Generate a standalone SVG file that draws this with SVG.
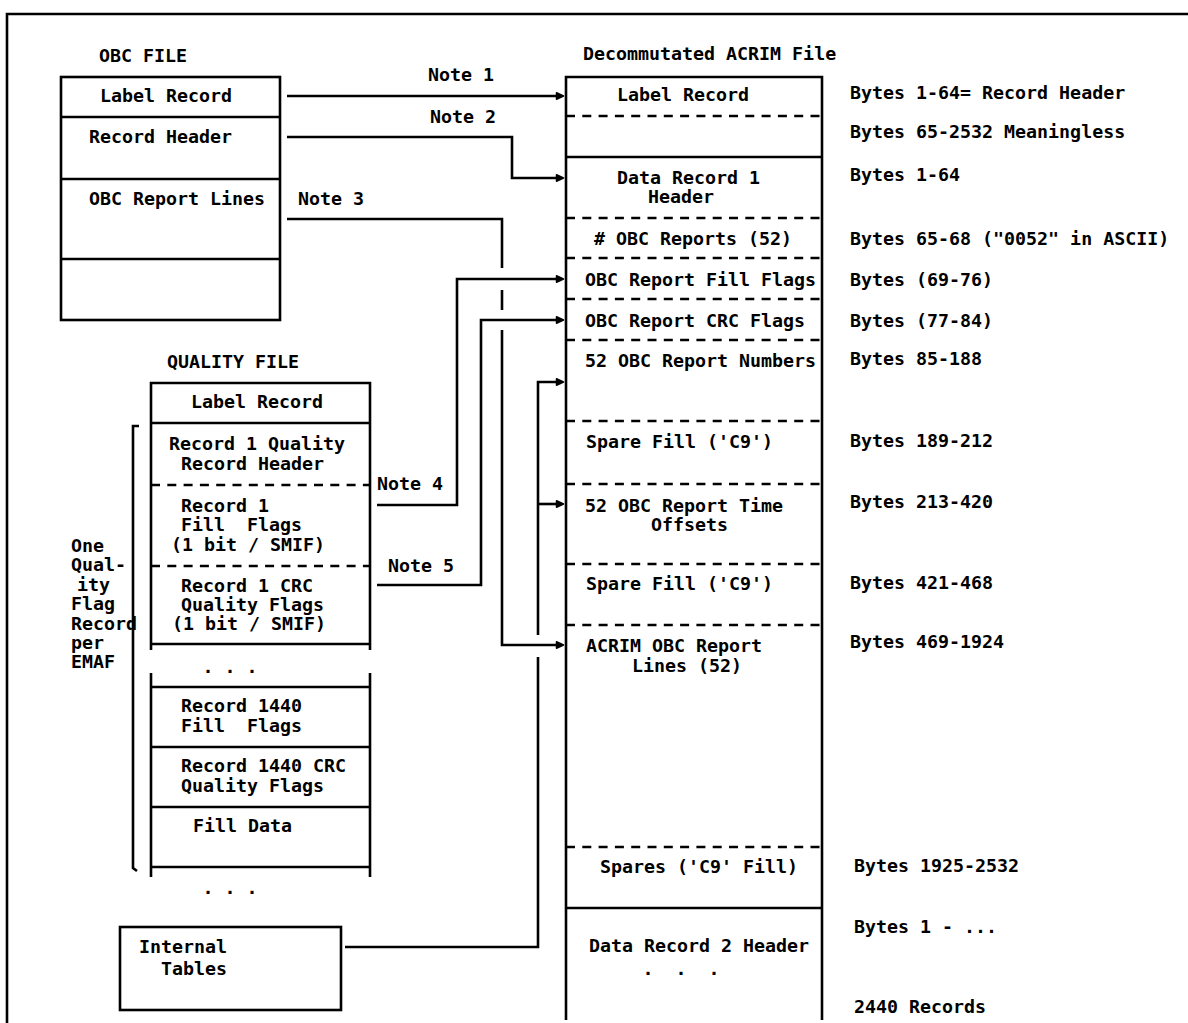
<svg xmlns="http://www.w3.org/2000/svg" width="1188" height="1023" viewBox="0 0 1188 1023">
<style>
text{font-family:"DejaVu Sans Mono","Liberation Mono",monospace;font-weight:bold;font-size:18.3px;fill:#000;white-space:pre}
.s{fill:none;stroke:#000;stroke-width:2.6}
.d{fill:none;stroke:#000;stroke-width:2.6;stroke-dasharray:9 7.3}
.c{fill:none;stroke:#000;stroke-width:2.6;marker-end:url(#dot)}
</style>
<defs>
<marker id="dot" markerUnits="userSpaceOnUse" markerWidth="10" markerHeight="10" refX="5" refY="5" orient="auto" viewBox="0 0 10 10">
<path d="M1.5,1.8 L8.5,5 L1.5,8.2 Z" fill="#000" stroke="#000" stroke-width="1.5" stroke-linejoin="round"/>
</marker>
</defs>
<rect width="1188" height="1023" fill="#fff"/>
<g id="frame">
<path class="s" d="M7,1023 V14 H1188" stroke-width="3"/>
</g>
<g id="obc-file">
<text x="99" y="62">OBC FILE</text>
<rect class="s" x="61" y="77" width="219" height="243"/>
<path class="s" d="M61,117 H280 M61,179 H280 M61,259 H280"/>
<text x="100" y="102">Label Record</text>
<text x="89" y="143">Record Header</text>
<text x="89" y="205">OBC Report Lines</text>
</g>
<g id="quality-file">
<text x="167" y="368">QUALITY FILE</text>
<path class="s" d="M151,650 V383 H370 V650 M151,423 H370 M151,644 H370"/>
<path class="d" d="M151,485 H370 M151,566 H370"/>
<path class="s" d="M151,673 V877 M370,673 V877 M151,687 H370 M151,747 H370 M151,807 H370 M151,867 H370"/>
<text x="191" y="408">Label Record</text>
<text x="169" y="450">Record 1 Quality</text>
<text x="181" y="470">Record Header</text>
<text x="181" y="512">Record 1</text>
<text x="181" y="531">Fill  Flags</text>
<text x="171" y="551">(1 bit / SMIF)</text>
<text x="181" y="592">Record 1 CRC</text>
<text x="181" y="611">Quality Flags</text>
<text x="172" y="630">(1 bit / SMIF)</text>
<text x="202.5" y="673">. . .</text>
<text x="181" y="712">Record 1440</text>
<text x="181" y="732">Fill  Flags</text>
<text x="181" y="772">Record 1440 CRC</text>
<text x="181" y="792">Quality Flags</text>
<text x="193" y="832">Fill Data</text>
<text x="202.5" y="894">. . .</text>
</g>
<g id="bracket">
<path class="s" d="M139,426 H133 V868 L137,871"/>
<text x="71" y="552">One</text>
<text x="71" y="571">Qual-</text>
<text x="77" y="591">ity</text>
<text x="71" y="610">Flag</text>
<text x="71" y="630">Record</text>
<text x="71" y="649">per</text>
<text x="71" y="668">EMAF</text>
</g>
<g id="internal-tables">
<rect class="s" x="120" y="927" width="221" height="83"/>
<text x="139" y="953">Internal</text>
<text x="161" y="975">Tables</text>
</g>
<g id="acrim-file">
<text x="583" y="60">Decommutated ACRIM File</text>
<path class="s" d="M566,1020 V77 H822 V1020 M566,157 H822 M566,908 H822"/>
<path class="d" d="M566,116 H822 M566,218 H822 M566,258 H822 M566,299 H822 M566,340 H822 M566,421 H822 M566,484 H822 M566,564 H822 M566,625 H822 M566,847 H822"/>
<text x="617" y="101">Label Record</text>
<text x="617" y="184">Data Record 1</text>
<text x="648" y="203">Header</text>
<text x="594" y="245"># OBC Reports (52)</text>
<text x="585" y="286">OBC Report Fill Flags</text>
<text x="585" y="327">OBC Report CRC Flags</text>
<text x="585" y="367">52 OBC Report Numbers</text>
<text x="586" y="448">Spare Fill ('C9')</text>
<text x="585" y="512">52 OBC Report Time</text>
<text x="651" y="531">Offsets</text>
<text x="586" y="590">Spare Fill ('C9')</text>
<text x="586" y="652">ACRIM OBC Report</text>
<text x="632" y="672">Lines (52)</text>
<text x="600" y="873">Spares ('C9' Fill)</text>
<text x="589" y="952">Data Record 2 Header</text>
<text x="642.5" y="975">.  .  .</text>
</g>
<g id="byte-labels">
<text x="850" y="99">Bytes 1-64= Record Header</text>
<text x="850" y="138">Bytes 65-2532 Meaningless</text>
<text x="850" y="181">Bytes 1-64</text>
<text x="850" y="245">Bytes 65-68 ("0052" in ASCII)</text>
<text x="850" y="286">Bytes (69-76)</text>
<text x="850" y="327">Bytes (77-84)</text>
<text x="850" y="365">Bytes 85-188</text>
<text x="850" y="447">Bytes 189-212</text>
<text x="850" y="508">Bytes 213-420</text>
<text x="850" y="589">Bytes 421-468</text>
<text x="850" y="648">Bytes 469-1924</text>
<text x="854" y="872">Bytes 1925-2532</text>
<text x="854" y="933">Bytes 1 - ...</text>
<text x="854" y="1013">2440 Records</text>
</g>
<g id="connectors">
<path class="c" d="M287,96 H560"/>
<path class="c" d="M287,137 H512 V178 H560"/>
<path class="c" d="M287,219 H502 V268 M502,290 V310 M502,330 V645 H560"/>
<path class="c" d="M377,505 H457 V279 H560"/>
<path class="c" d="M377,585 H481 V320 H560"/>
<path class="c" d="M345,947 H538 V657 M538,635 V382 H560"/>
<path class="c" d="M538,504 H560"/>
<text x="428" y="81">Note 1</text>
<text x="430" y="123">Note 2</text>
<text x="298" y="205">Note 3</text>
<text x="377" y="490">Note 4</text>
<text x="388" y="572">Note 5</text>
</g>
</svg>
